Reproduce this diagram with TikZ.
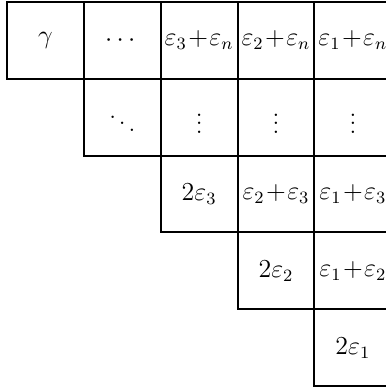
\documentclass[tikz,border=0pt]{standalone}
\usepackage{amsmath}
\usepackage{tikz}
\usetikzlibrary{positioning}
\tikzset{
  cell/.style={rectangle, draw=black, minimum size=1.25cm, inner sep=0pt,
    outer sep=0pt, line width=0.9pt, font=\fontsize{11.5}{13}\selectfont}
}
\newcommand{\epsum}[2]{\varepsilon_{#1}\!+\!\varepsilon_{#2}}
\begin{document}
\begin{tikzpicture}
  \useasboundingbox (-0.114,0.03) rectangle (6.152,-6.28);

  % Row 1
  \node[cell] (gam) at (0.625,-0.625) {$\gamma$};
  \node[cell] (cdt) at (1.875,-0.625) {$\cdots$};
  \node[cell] (e3n) at (3.125,-0.625) {$\epsum{3}{n}$};
  \node[cell] (e2n) at (4.375,-0.625) {$\epsum{2}{n}$};
  \node[cell] (e1n) at (5.625,-0.625) {$\epsum{1}{n}$};

  % Row 2
  \node[cell] (ddt) at (1.875,-1.875) {$\ddots$};
  \node[cell] (vd3) at (3.125,-1.875) {$\vdots$};
  \node[cell] (vd2) at (4.375,-1.875) {$\vdots$};
  \node[cell] (vd1) at (5.625,-1.875) {$\vdots$};

  % Row 3
  \node[cell] (e33) at (3.125,-3.125) {$2\varepsilon_3$};
  \node[cell] (e23) at (4.375,-3.125) {$\epsum{2}{3}$};
  \node[cell] (e13) at (5.625,-3.125) {$\epsum{1}{3}$};

  % Row 4
  \node[cell] (e22) at (4.375,-4.375) {$2\varepsilon_2$};
  \node[cell] (e12) at (5.625,-4.375) {$\epsum{1}{2}$};

  % Row 5
  \node[cell] (e11) at (5.625,-5.625) {$2\varepsilon_1$};
\end{tikzpicture}
\end{document}
